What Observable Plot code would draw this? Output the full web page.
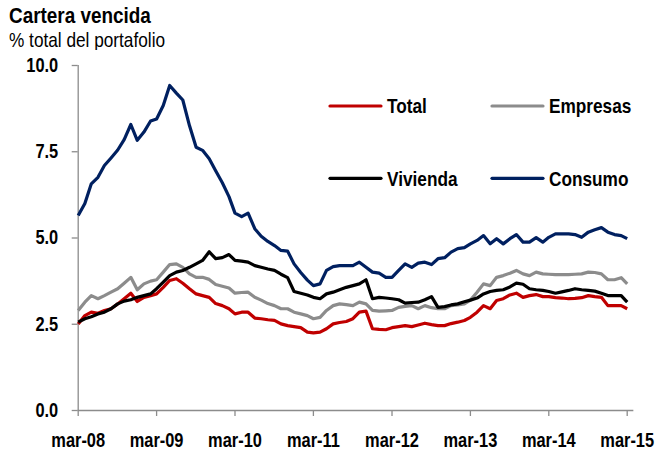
<!DOCTYPE html>
<html>
<head>
<meta charset="utf-8">
<script src="https://cdn.jsdelivr.net/npm/d3@7"></script>
<script src="https://cdn.jsdelivr.net/npm/@observablehq/plot@0.6"></script>
<style>
  html, body { margin: 0; padding: 0; background: #fff; }
  #wrap { position: relative; width: 661px; height: 452px; overflow: hidden; font-family: 'Liberation Sans', Arial, sans-serif; }
  #title { position: absolute; left: 9px; top: 5px; font-weight: bold; font-size: 22.5px; line-height: 22.5px; white-space: nowrap; transform: scaleX(0.84); transform-origin: 0 0; }
  #subtitle { position: absolute; left: 9px; top: 29px; font-size: 21px; line-height: 21px; white-space: nowrap; transform: scaleX(0.82); transform-origin: 0 0; }
  #chart { position: absolute; left: 0; top: 50px; }
</style>
</head>
<body>
<div id="wrap">
  <div id="title">Cartera vencida</div>
  <div id="subtitle">% total del portafolio</div>
  <div id="chart"></div>
</div>
<script>
// ---- Data (monthly, mar-08 .. mar-15) ----
const firstMonth = "2008-03-01";
const seriesNames = ["Total", "Empresas", "Vivienda", "Consumo"];
const seriesColors = ["#c00000", "#8c8c8c", "#000000", "#002060"];

const total = [2.51, 2.75, 2.85, 2.82, 2.90, 2.95, 3.09, 3.24, 3.40, 3.16,
  3.28, 3.33, 3.38, 3.57, 3.77, 3.82, 3.69, 3.53, 3.38, 3.33,
  3.28, 3.10, 3.04, 2.95, 2.80, 2.85, 2.85, 2.68, 2.66, 2.63,
  2.61, 2.51, 2.46, 2.43, 2.40, 2.27, 2.25, 2.27, 2.37, 2.51,
  2.55, 2.58, 2.66, 2.85, 2.88, 2.37, 2.35, 2.34, 2.40, 2.43,
  2.46, 2.43, 2.48, 2.53, 2.49, 2.46, 2.46, 2.52, 2.56, 2.61,
  2.70, 2.85, 3.04, 2.95, 3.19, 3.24, 3.35, 3.40, 3.28, 3.33,
  3.36, 3.30, 3.30, 3.27, 3.26, 3.24, 3.25, 3.27, 3.33, 3.30,
  3.28, 3.04, 3.04, 3.04, 2.95];

const empresas = [2.90, 3.14, 3.33, 3.24, 3.33, 3.43, 3.53, 3.69, 3.86, 3.50,
  3.67, 3.75, 3.79, 4.01, 4.23, 4.25, 4.15, 3.96, 3.86, 3.86,
  3.80, 3.65, 3.60, 3.55, 3.40, 3.42, 3.43, 3.28, 3.20, 3.10,
  3.04, 2.95, 2.95, 2.85, 2.80, 2.75, 2.66, 2.70, 2.90, 3.04,
  3.09, 3.07, 3.04, 3.14, 3.09, 2.90, 2.88, 2.89, 2.90, 2.99,
  3.02, 3.04, 2.95, 3.04, 2.98, 2.95, 2.95, 3.04, 3.06, 3.09,
  3.20, 3.43, 3.67, 3.62, 3.86, 3.91, 3.98, 4.06, 3.96, 3.91,
  4.01, 3.96, 3.95, 3.94, 3.94, 3.94, 3.95, 3.96, 4.01, 4.00,
  3.96, 3.79, 3.79, 3.85, 3.67];

const vivienda = [2.56, 2.66, 2.72, 2.80, 2.85, 2.95, 3.09, 3.17, 3.21, 3.28,
  3.33, 3.38, 3.53, 3.72, 3.91, 4.01, 4.06, 4.15, 4.25, 4.35,
  4.60, 4.40, 4.43, 4.52, 4.35, 4.33, 4.30, 4.20, 4.15, 4.10,
  4.06, 3.95, 3.85, 3.45, 3.40, 3.35, 3.28, 3.24, 3.38, 3.43,
  3.50, 3.57, 3.62, 3.67, 3.79, 3.24, 3.28, 3.26, 3.24, 3.21,
  3.11, 3.13, 3.14, 3.21, 3.30, 2.99, 3.01, 3.06, 3.09, 3.15,
  3.20, 3.26, 3.38, 3.45, 3.48, 3.50, 3.58, 3.69, 3.66, 3.53,
  3.50, 3.48, 3.45, 3.40, 3.44, 3.48, 3.53, 3.50, 3.48, 3.46,
  3.40, 3.33, 3.33, 3.33, 3.14];

const consumo = [5.65, 6.00, 6.57, 6.76, 7.10, 7.32, 7.55, 7.85, 8.29, 7.83,
  8.07, 8.39, 8.45, 8.84, 9.42, 9.20, 9.00, 8.26, 7.63, 7.54,
  7.30, 6.95, 6.60, 6.20, 5.72, 5.62, 5.72, 5.27, 5.05, 4.90,
  4.78, 4.64, 4.62, 4.25, 4.00, 3.78, 3.62, 3.67, 4.06, 4.17,
  4.20, 4.20, 4.20, 4.30, 4.15, 4.01, 3.98, 3.86, 3.86, 4.06,
  4.25, 4.15, 4.27, 4.30, 4.23, 4.40, 4.43, 4.59, 4.69, 4.72,
  4.83, 4.93, 5.07, 4.83, 4.98, 4.83, 4.98, 5.10, 4.88, 4.88,
  5.01, 4.88, 5.02, 5.12, 5.12, 5.12, 5.10, 5.02, 5.17, 5.24,
  5.30, 5.17, 5.10, 5.07, 4.98];

const xTickLabels = ["mar-08", "mar-09", "mar-10", "mar-11", "mar-12", "mar-13", "mar-14", "mar-15"];
const yTicks = [0, 2.5, 5, 7.5, 10];

// ---- Build tables ----
const start = new Date(firstMonth + "T00:00:00Z");
const months = total.map((_, i) => d3.utcMonth.offset(start, i));
const values = [total, empresas, vivienda, consumo];
const rows = seriesNames.flatMap((name, s) => values[s].map((v, i) => ({series: name, date: months[i], value: v})));
const xTicks = xTickLabels.map((_, i) => d3.utcYear.offset(start, i));
const axisEnd = d3.utcMonth.offset(months[months.length - 1], 1);

const axisGray = "#8c8c8c";
const font = "'Liberation Sans', Arial, sans-serif";

const chart = Plot.plot({
  width: 661,
  height: 402,
  marginLeft: 77.7,
  marginRight: 34.3,
  marginTop: 15,
  marginBottom: 42,
  x: {type: "utc", domain: [months[0], months[months.length - 1]]},
  y: {domain: [0, 10]},
  style: {fontFamily: font, fontSize: "20px", fontWeight: "bold", overflow: "visible", background: "white", color: "black"},
  marks: [
    Plot.ruleX([months[0]], {y1: 0, y2: 10, stroke: axisGray, strokeWidth: 1.3}),
    Plot.ruleY([0], {x1: months[0], x2: axisEnd, stroke: axisGray, strokeWidth: 1.3}),
    Plot.axisY({ticks: yTicks, label: null, tickSize: 6, tickPadding: 14, tickFormat: d3.format(".1f"), stroke: axisGray, strokeWidth: 1.3, fill: "black"}),
    Plot.axisX({ticks: xTicks, label: null, tickSize: 6, tickPadding: 16, tickFormat: d => xTickLabels[xTicks.findIndex(t => +t === +d)], stroke: axisGray, strokeWidth: 1.3, fill: "black"}),
    ...seriesNames.map((name, s) => Plot.lineY(rows.filter(r => r.series === name), {
      x: "date", y: "value", stroke: seriesColors[s], strokeWidth: 3.2, strokeLinejoin: "round", strokeLinecap: "butt"
    }))
  ]
});

// ---- Legend (inside chart area) ----
const svg = d3.select(chart);
const legend = svg.append("g").attr("font-family", font).attr("font-size", 21).attr("font-weight", "bold").attr("text-anchor", "start");
const legendPos = [
  {lx: 330, ty: 56, tb: 63.3},
  {lx: 492, ty: 56, tb: 63.3},
  {lx: 330, ty: 128.3, tb: 136},
  {lx: 492, ty: 128.3, tb: 136}
];
seriesNames.forEach((name, s) => {
  const p = legendPos[s];
  legend.append("line").attr("x1", p.lx).attr("x2", p.lx + 51).attr("y1", p.ty).attr("y2", p.ty)
    .attr("stroke", seriesColors[s]).attr("stroke-width", 3.2).attr("stroke-linecap", "round");
  legend.append("text").attr("x", p.lx + 57).attr("y", p.tb).attr("fill", "black").text(name);
});

document.getElementById("chart").appendChild(chart);

// condense all chart texts horizontally (narrow look of the original)
chart.querySelectorAll("text").forEach(t => {
  const L = t.getComputedTextLength();
  if (L > 0) {
    t.setAttribute("textLength", (L * 0.82).toFixed(2));
    t.setAttribute("lengthAdjust", "spacingAndGlyphs");
  }
});
</script>
</body>
</html>
